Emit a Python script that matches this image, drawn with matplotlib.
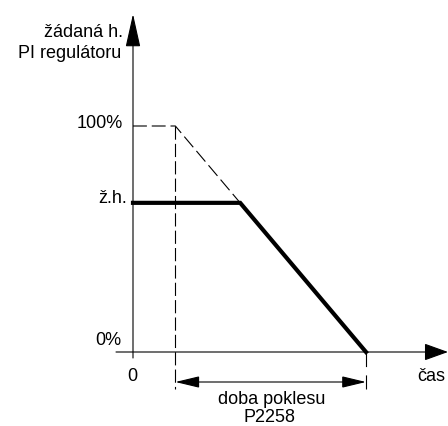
import matplotlib.pyplot as plt
from matplotlib.patches import FancyArrowPatch

plt.rcParams['font.family'] = ['Liberation Sans', 'DejaVu Sans']
plt.rcParams['lines.scale_dashes'] = False

# ramp-down of the PI setpoint (time in arbitrary units, value in %)
t_ramp_start = 1.0
t_ramp_end = 5.5
setpoint_pct = 66.0
full_pct = 100.0

# setpoint curve: flat at ž.h. until it meets the 100% -> 0% ramp
t_knee = t_ramp_end - setpoint_pct / full_pct * (t_ramp_end - t_ramp_start)
curve_t = [0.0, t_knee, t_ramp_end]
curve_v = [setpoint_pct, setpoint_pct, 0.0]

# reference ramp from 100 %
ramp_t = [0.0, t_ramp_start, t_ramp_end]
ramp_v = [full_pct, full_pct, 0.0]

W, H = 448, 426
X0, Y0 = 133, 352          # origin in pixels
SX, SY = 42.36, 2.26       # pixels per time unit / per percent

fig = plt.figure(figsize=(W / 100, H / 100), dpi=100)
ax = fig.add_axes([0, 0, 1, 1])
ax.set_xlim(-X0 / SX, (W - X0) / SX)
ax.set_ylim(-(H - Y0) / SY, Y0 / SY)
ax.axis('off')


def arrow(p0, p1, style, hl, hw, lw=0.8):
    ax.add_patch(FancyArrowPatch(p0, p1, arrowstyle=f'{style},head_length={hl},head_width={hw}',
                                 mutation_scale=1, shrinkA=0, shrinkB=0,
                                 color='black', lw=lw, joinstyle='miter'))


# axes with arrow heads
arrow((0, -6 / SY), (0, (Y0 - 14) / SY), '-|>', 21, 4.7)
arrow((-17 / SX, 0), ((W - X0) / SX, 0), '-|>', 15, 5.4)

# dashed 100 % ramp and helper verticals
ax.plot(ramp_t, ramp_v, color='black', lw=0.8, dashes=(10, 3.5))
ax.plot([t_ramp_start, t_ramp_start], [full_pct, -37 / SY], color='black', lw=0.8, dashes=(9.5, 3))
ax.plot([t_ramp_end, t_ramp_end], [0, -37 / SY], color='black', lw=0.8, dashes=(10.5, 6))

# actual setpoint
ax.plot(curve_t, curve_v, color='black', lw=3, solid_joinstyle='miter')

# ramp duration dimension
arrow((t_ramp_start, -30 / SY), (t_ramp_end, -30 / SY), '<|-|>', 15, 3.6)


def label(x, y, s, ha):
    fig.text(x / W, 1 - y / H, s, ha=ha, va='baseline', fontsize=13)


label(123, 37, 'žádaná h.', 'right')
label(121, 58, 'PI regulátoru', 'right')
label(123, 128, '100%', 'right')
label(127, 203, 'ž.h.', 'right')
label(121, 345, '0%', 'right')
label(132, 381, '0', 'center')
label(417, 381, 'čas', 'left')
label(272, 404, 'doba poklesu', 'center')
label(269, 422, 'P2258', 'center')

fig.savefig('out.png', dpi=100)
